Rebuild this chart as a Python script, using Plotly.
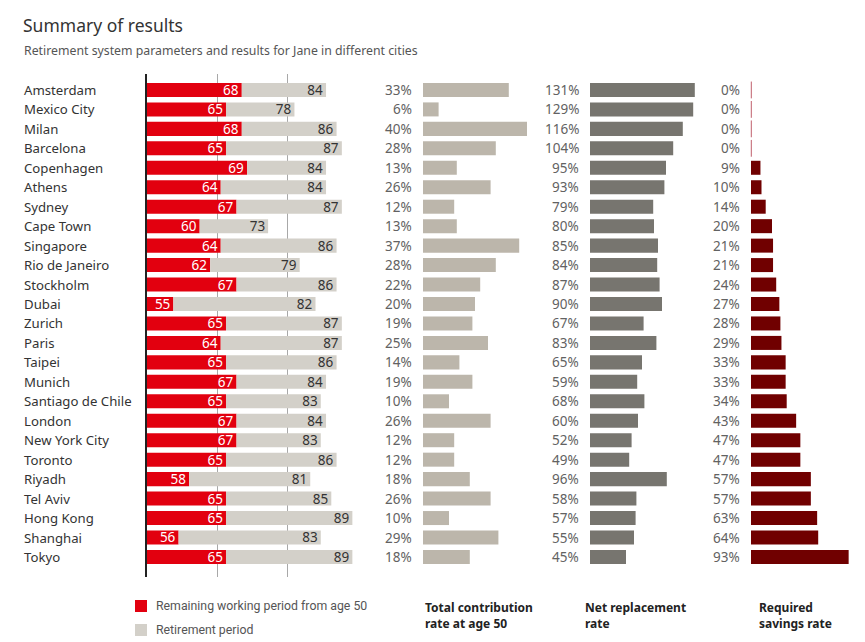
import plotly.graph_objects as go

cities = ["Amsterdam", "Mexico City", "Milan", "Barcelona", "Copenhagen", "Athens", "Sydney",
          "Cape Town", "Singapore", "Rio de Janeiro", "Stockholm", "Dubai", "Zurich", "Paris",
          "Taipei", "Munich", "Santiago de Chile", "London", "New York City", "Toronto",
          "Riyadh", "Tel Aviv", "Hong Kong", "Shanghai", "Tokyo"]
retire_age = [68, 65, 68, 65, 69, 64, 67, 60, 64, 62, 67, 55, 65, 64, 65, 67, 65, 67, 67, 65,
              58, 65, 65, 56, 65]
life_exp = [84, 78, 86, 87, 84, 84, 87, 73, 86, 79, 86, 82, 87, 87, 86, 84, 83, 84, 83, 86,
            81, 85, 89, 83, 89]
contribution = [33, 6, 40, 28, 13, 26, 12, 13, 37, 28, 22, 20, 19, 25, 14, 19, 10, 26, 12, 12,
                18, 26, 10, 29, 18]
replacement = [131, 129, 116, 104, 95, 93, 79, 80, 85, 84, 87, 90, 67, 83, 65, 59, 68, 60, 52, 49,
               96, 58, 57, 55, 45]
savings = [0, 0, 0, 0, 9, 10, 14, 20, 21, 21, 24, 27, 28, 29, 33, 33, 34, 43, 47, 47,
           57, 57, 63, 64, 93]
start_age = 50

OFF = 8  # page body margin
W, H = 865 - OFF, 642 - OFF
FONT = "Noto Sans, Open Sans, sans-serif"
NARROW = "Liberation Sans Narrow, Roboto, sans-serif"
RED = "#e2000f"
LIGHT = "#d3d0c9"
CONTRIB = "#bcb6ab"
REPL = "#77756f"
SAVE = "#700000"
idx = list(range(len(cities)))

def px_x(p):
    return (p - OFF) / W

def px_y(p):
    return 1 - (p - OFF) / H

fig = go.Figure()

# Age panel
fig.add_trace(go.Bar(
    y=idx, x=[r - start_age for r in retire_age], base=[start_age] * len(idx),
    orientation="h", marker=dict(color=RED, line=dict(width=0)), width=0.72,
    text=[str(r) for r in retire_age], textposition="inside", insidetextanchor="end",
    textangle=0, textfont=dict(color="white", size=13.5, family=FONT), constraintext="none",
    xaxis="x", yaxis="y", hoverinfo="skip"))
fig.add_trace(go.Bar(
    y=idx, x=[l - r for l, r in zip(life_exp, retire_age)], base=retire_age,
    orientation="h", marker=dict(color=LIGHT, line=dict(width=0)), width=0.72,
    text=[str(l) for l in life_exp], textposition="inside", insidetextanchor="end",
    textangle=0, textfont=dict(color="#333333", size=13.5, family=FONT), constraintext="none",
    xaxis="x", yaxis="y", hoverinfo="skip"))

# Contribution panel
fig.add_trace(go.Bar(y=idx, x=contribution, orientation="h", width=0.72,
                     marker=dict(color=CONTRIB, line=dict(width=0)),
                     xaxis="x2", yaxis="y", hoverinfo="skip"))
# Replacement panel
fig.add_trace(go.Bar(y=idx, x=replacement, orientation="h", width=0.72,
                     marker=dict(color=REPL, line=dict(width=0)),
                     xaxis="x3", yaxis="y", hoverinfo="skip"))
# Savings panel
fig.add_trace(go.Bar(y=idx, x=savings, orientation="h", width=0.72,
                     marker=dict(color=SAVE, line=dict(width=0)),
                     xaxis="x4", yaxis="y", hoverinfo="skip"))
zero_idx = [i for i, v in zip(idx, savings) if v == 0]
fig.add_trace(go.Scatter(y=zero_idx, x=[0.3] * len(zero_idx), mode="markers",
                         marker=dict(symbol="line-ns", size=12, color="#c0606c",
                                     line=dict(width=1, color="#c0606c")),
                         cliponaxis=False,
                         xaxis="x4", yaxis="y", hoverinfo="skip"))

annotations = []
for i, c in zip(idx, cities):
    annotations.append(dict(text=c, x=px_x(22), xref="paper", xanchor="left",
                            y=i, yref="y", yanchor="middle", showarrow=False,
                            font=dict(size=13.2, color="#333333", family=FONT)))
for axis, vals in (("x2", contribution), ("x3", replacement), ("x4", savings)):
    for i, v in zip(idx, vals):
        annotations.append(dict(text=f"{v}%", x=0, xref=axis, xanchor="right", xshift=-9,
                                y=i, yref="y", yanchor="middle", showarrow=False,
                                font=dict(size=13.5, color="#626262", family=FONT)))

annotations += [
    dict(text="Summary of results", x=px_x(21), y=px_y(11), xref="paper", yref="paper",
         xanchor="left", yanchor="top", showarrow=False,
         font=dict(size=17.5, color="#333333", family=FONT)),
    dict(text="Retirement system parameters and results for Jane in different cities",
         x=px_x(22), y=px_y(40), xref="paper", yref="paper", xanchor="left", yanchor="top",
         showarrow=False, font=dict(size=12.3, color="#555555", family=FONT)),
    dict(text="Remaining working period from age 50", x=px_x(154), y=px_y(606),
         xref="paper", yref="paper", xanchor="left", yanchor="middle", showarrow=False,
         font=dict(size=12.3, color="#555555", family=NARROW)),
    dict(text="Retirement period", x=px_x(154), y=px_y(630),
         xref="paper", yref="paper", xanchor="left", yanchor="middle", showarrow=False,
         font=dict(size=12.3, color="#555555", family=NARROW)),
    dict(text="<b>Total contribution<br>rate at age 50</b>", x=px_x(423), y=px_y(597),
         xref="paper", yref="paper", xanchor="left", yanchor="top", align="left",
         showarrow=False, font=dict(size=12, color="#222222", family=FONT)),
    dict(text="<b>Net replacement<br>rate</b>", x=px_x(583), y=px_y(597),
         xref="paper", yref="paper", xanchor="left", yanchor="top", align="left",
         showarrow=False, font=dict(size=12, color="#222222", family=FONT)),
    dict(text="<b>Required<br>savings rate</b>", x=px_x(757), y=px_y(597),
         xref="paper", yref="paper", xanchor="left", yanchor="top", align="left",
         showarrow=False, font=dict(size=12, color="#222222", family=FONT)),
]

shapes = [
    dict(type="rect", xref="paper", yref="paper", x0=px_x(135), x1=px_x(147),
         y0=px_y(612), y1=px_y(600), fillcolor=RED, line=dict(width=0)),
    dict(type="rect", xref="paper", yref="paper", x0=px_x(135), x1=px_x(147),
         y0=px_y(636), y1=px_y(624), fillcolor=LIGHT, line=dict(width=0)),
]

ydom = [px_y(577), px_y(74)]
hidden = dict(showgrid=False, zeroline=False, showticklabels=False, showline=False, ticks="")
fig.update_layout(
    width=W, height=H, margin=dict(l=0, r=0, t=0, b=0),
    paper_bgcolor="white", plot_bgcolor="rgba(0,0,0,0)",
    barmode="overlay", showlegend=False, font=dict(family=FONT),
    xaxis=dict(domain=[px_x(147), px_x(355)], range=[50, 89.5], tick0=50, dtick=40 / 3,
               showgrid=True, gridcolor="#a8a8a8", gridwidth=1, zeroline=False,
               showticklabels=False, showline=False, ticks="", anchor="y"),
    xaxis2=dict(domain=[px_x(423), px_x(540)], range=[0, 45], anchor="y", **hidden),
    xaxis3=dict(domain=[px_x(590), px_x(702)], range=[0, 140], anchor="y", **hidden),
    xaxis4=dict(domain=[px_x(751), px_x(856)], range=[0, 100], anchor="y", **hidden),
    yaxis=dict(domain=ydom, range=[25.03, -0.82], showgrid=False, zeroline=False,
               showticklabels=False, ticks="", showline=True, linecolor="#222222",
               linewidth=1.5, anchor="x", side="left"),
    annotations=annotations, shapes=shapes,
)

fig.write_html("out.html")
